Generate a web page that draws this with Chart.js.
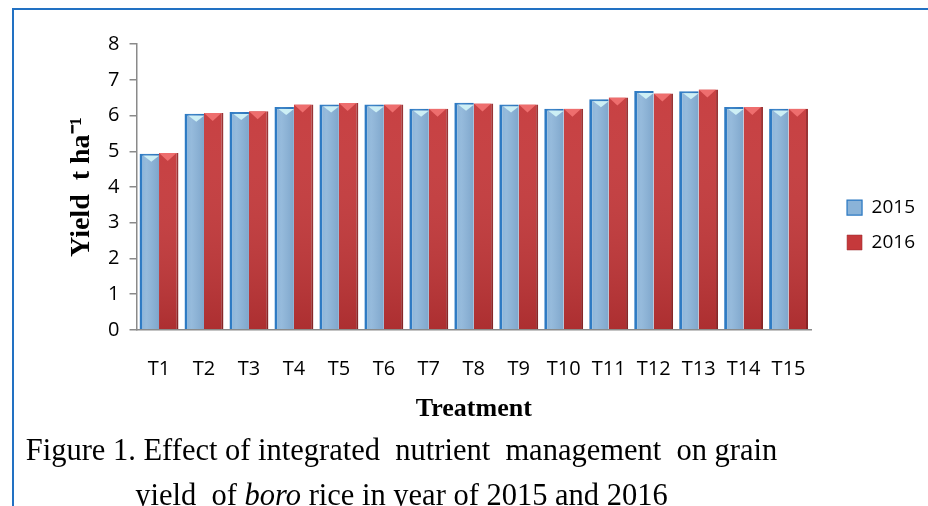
<!DOCTYPE html>
<html>
<head>
<meta charset="utf-8">
<script src="https://cdn.jsdelivr.net/npm/chart.js@4.4.1/dist/chart.umd.min.js"></script>
<style>
html,body{margin:0;padding:0;background:#fff;width:928px;height:506px;overflow:hidden;}
#wrap{position:absolute;left:0;top:0;width:928px;height:506px;}
#frame{position:absolute;left:12px;top:8px;width:916px;height:498px;border-top:2px solid #2271C3;border-left:2px solid #2271C3;box-sizing:border-box;pointer-events:none;}
.cap{position:absolute;left:0;width:803px;text-align:center;font-family:"Liberation Serif","Times New Roman",serif;font-size:30.5px;line-height:36px;color:#000;white-space:pre;}
</style>
</head>
<body>
<div id="wrap"><canvas id="c" width="928" height="506"></canvas></div>
<div id="frame"></div>
<div class="cap" style="top:432px">Figure 1. Effect of integrated  nutrient  management  on grain</div>
<div class="cap" style="top:477px">yield  of <i>boro</i> rice in year of 2015 and 2016</div>
<script>
const categories = ['T1','T2','T3','T4','T5','T6','T7','T8','T9','T10','T11','T12','T13','T14','T15'];
const yield2015 = [4.93, 6.05, 6.10, 6.24, 6.31, 6.31, 6.19, 6.36, 6.31, 6.19, 6.46, 6.69, 6.68, 6.24, 6.19];
const yield2016 = [4.95, 6.07, 6.12, 6.31, 6.35, 6.31, 6.19, 6.34, 6.31, 6.19, 6.51, 6.62, 6.73, 6.24, 6.19];
const yTicks = [0, 1, 2, 3, 4, 5, 6, 7, 8];
const seriesNames = ['2015', '2016'];

const barShade = {
  id: 'barShade',
  afterDatasetsDraw(chart) {
    const ctx = chart.ctx;
    chart.data.datasets.forEach((ds, di) => {
      const meta = chart.getDatasetMeta(di);
      meta.data.forEach(el => {
        const {x, y, base, width} = el.getProps(['x','y','base','width'], true);
        const l = x - width / 2, r = x + width / 2;
        ctx.save();
        ctx.beginPath();
        ctx.rect(l, y, width, base - y);
        ctx.clip();
        if (di === 0) {
          const g = ctx.createLinearGradient(l, 0, r, 0);
          g.addColorStop(0, 'rgba(255,255,255,0)');
          g.addColorStop(0.35, 'rgba(255,255,255,0.10)');
          g.addColorStop(1, 'rgba(40,70,110,0.12)');
          ctx.fillStyle = g;
          ctx.fillRect(l, y, width, base - y);
          ctx.fillStyle = '#CDEFF5';
          ctx.beginPath();
          ctx.moveTo(l + 4, y + 2);
          ctx.lineTo(r, y + 2);
          ctx.lineTo(x + 2, y + 8);
          ctx.closePath();
          ctx.fill();
        } else {
          const g = ctx.createLinearGradient(0, y, 0, base);
          g.addColorStop(0, 'rgba(255,255,255,0.04)');
          g.addColorStop(1, 'rgba(60,0,0,0.18)');
          ctx.fillStyle = g;
          ctx.fillRect(l, y, width, base - y);
          ctx.fillStyle = '#EE6E6E';
          ctx.beginPath();
          ctx.moveTo(l, y);
          ctx.lineTo(r - 2, y);
          ctx.lineTo(x - 1, y + 8);
          ctx.closePath();
          ctx.fill();
        }
        ctx.restore();
      });
    });
  }
};

new Chart(document.getElementById('c'), {
  type: 'bar',
  data: {
    labels: categories,
    datasets: [
      {label: seriesNames[0], data: yield2015, backgroundColor: '#8AB3D8', borderColor: '#2A78C2', borderWidth: {left: 3, top: 2, right: 0, bottom: 0}, borderSkipped: false, categoryPercentage: 0.865, barPercentage: 1.0},
      {label: seriesNames[1], data: yield2016, backgroundColor: '#C5393B', borderColor: '#962B2D', borderWidth: {left: 0, top: 0, right: 2, bottom: 0}, borderSkipped: false, categoryPercentage: 0.865, barPercentage: 1.0}
    ]
  },
  options: {
    responsive: false,
    animation: false,
    events: [],
    layout: {padding: {top: 25, left: 0, right: 3, bottom: 81}},
    plugins: {
      title: {display: true, text: '', fullSize: false, padding: 0, font: {size: 16}},
      legend: {
        position: 'right', align: 'center',
        labels: {boxWidth: 15, boxHeight: 15, padding: 16, color: '#000', font: {family: 'Open Sans', size: 19}}
      },
      tooltip: {enabled: false}
    },
    scales: {
      x: {
        grid: {display: false, drawTicks: false},
        border: {display: true, color: '#8A8A8A', width: 1.5},
        ticks: {padding: 27, color: '#000', maxRotation: 0, autoSkip: false, font: {family: 'Open Sans', size: 20}},
        title: {display: true, text: 'Treatment', color: '#000', font: {family: 'Liberation Serif', size: 26, weight: 'bold'}, padding: {top: -14, bottom: 0}}
      },
      y: {
        min: 0, max: 8,
        afterBuildTicks: s => { s.ticks = yTicks.map(v => ({value: v})); },
        grid: {drawOnChartArea: false, drawTicks: true, tickLength: 7, color: '#8A8A8A', lineWidth: 1.5},
        border: {display: true, color: '#8A8A8A', width: 1.5},
        ticks: {padding: 10, color: '#000', font: {family: 'Open Sans', size: 20}},
        title: {display: true, text: 'Yield  t ha\u207B\u00B9', color: '#000', font: {family: 'Liberation Serif', size: 28, weight: 'bold'}, padding: {top: 64.5, bottom: 0}}
      },
      y2: {
        type: 'linear', position: 'right', display: true,
        grid: {display: false, drawTicks: false}, border: {display: false}, ticks: {display: false},
        afterFit: s => { s.width = 20; }
      }
    }
  },
  plugins: [barShade]
});
</script>
</body>
</html>
